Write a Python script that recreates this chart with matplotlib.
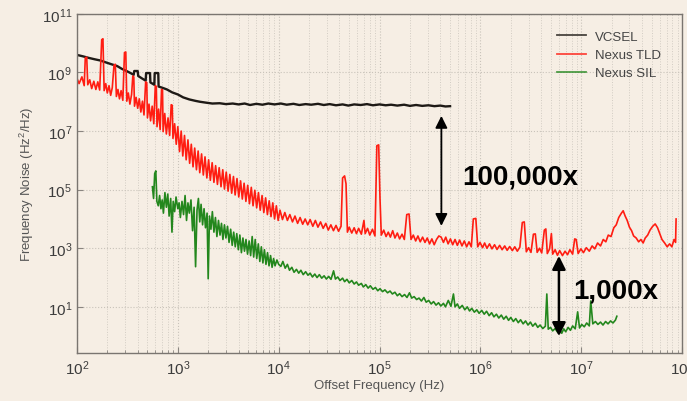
import numpy as np
import matplotlib
matplotlib.use("Agg")
import matplotlib.pyplot as plt
from matplotlib.ticker import LogLocator, NullFormatter, FixedLocator

plt.rcParams['font.family'] = ['Liberation Sans', 'DejaVu Sans']
plt.rcParams['mathtext.fontset'] = 'custom'
plt.rcParams['mathtext.rm'] = 'Liberation Sans'
plt.rcParams['mathtext.it'] = 'Liberation Sans'

# ---- data (noise given as log10 exponent) ----
vcsel_f = [100, 115, 130, 150, 170, 195, 220, 250, 280, 310, 340, 365, 370, 400, 405,
           440, 480, 485, 530, 535, 560, 585, 590, 640, 645, 700, 780, 880, 1000, 1130,
           1300, 1500, 1660, 1900, 2200, 2600, 3000, 3500, 4000, 4600, 5200, 6000, 6900,
           7900, 9100, 1.05e4, 1.2e4, 1.4e4, 1.6e4, 1.85e4, 2.1e4, 2.45e4, 2.8e4, 3.2e4,
           3.7e4, 4.3e4, 4.9e4, 5.6e4, 6.5e4, 7.5e4, 8.6e4, 1e5, 1.15e5, 1.3e5, 1.5e5,
           1.75e5, 2e5, 2.3e5, 2.65e5, 3.05e5, 3.5e5, 4e5, 4.5e5, 5e5]
vcsel_exp = [9.60, 9.55, 9.50, 9.45, 9.41, 9.34, 9.28, 9.22, 9.12, 9.05, 8.98, 8.92, 9.05,
             9.05, 8.88, 8.80, 8.72, 8.98, 8.98, 8.66, 8.62, 8.58, 8.98, 8.98, 8.52, 8.48,
             8.42, 8.32, 8.25, 8.15, 8.08, 8.03, 8.00, 7.97, 7.94, 7.95, 7.92, 7.94, 7.91,
             7.94, 7.89, 7.93, 7.90, 7.94, 7.91, 7.94, 7.90, 7.93, 7.89, 7.92, 7.90, 7.93,
             7.89, 7.92, 7.88, 7.91, 7.87, 7.91, 7.89, 7.92, 7.88, 7.91, 7.88, 7.90, 7.87,
             7.90, 7.86, 7.89, 7.86, 7.88, 7.85, 7.87, 7.84, 7.85]

tld_f = [100, 105, 112, 118, 121, 125, 128, 134, 140, 147, 154, 161, 168, 176, 181, 186,
         193, 200, 208, 216, 224, 233, 240, 246, 255, 264, 274, 285, 296, 305, 312, 323,
         335, 348, 358, 366, 372, 386, 400, 415, 430, 446, 462, 480, 492, 500, 518, 537,
         557, 578, 598, 612, 622, 645, 668, 690, 705, 715, 742, 770, 800, 830, 860, 880,
         895, 930, 965, 1000, 1040, 1080, 1120, 1165, 1210, 1260, 1310, 1360, 1415, 1470,
         1530, 1590, 1650, 1720, 1790, 1860, 1940, 2020, 2100, 2190, 2280, 2370, 2470,
         2570, 2680, 2790, 2900, 3020, 3150, 3280, 3420, 3560, 3700, 3860, 4020, 4190,
         4360, 4540, 4730, 4930, 5130, 5350, 5570, 5800, 6050, 6300, 6560, 6840, 7120,
         7420, 7730, 8050, 8390, 8740, 9100, 9480, 9880, 10300, 10900, 11500, 12200,
         12900, 13700, 14500, 15400, 16300, 17300, 18300, 19400, 20500, 21800, 23100,
         24500, 26000, 27600, 29300, 31000, 32900, 34900, 37000, 39200, 41500, 43000,
         45000, 46500, 48000, 50000, 53000, 56000, 59000, 62000, 66000, 70000, 72000,
         76000, 80000, 85000, 90000, 94000, 98000, 101000, 104000, 110000, 116000,
         122000, 128000, 135000, 142000, 150000, 158000, 167000, 176000, 186000, 196000,
         205000, 216000, 228000, 240000, 253000, 267000, 282000, 297000, 313000, 330000,
         348000, 367000, 387000, 408000, 430000, 453000, 478000, 504000, 531000, 560000,
         590000, 622000, 656000, 692000, 730000, 770000, 812000, 850000, 900000, 940000,
         990000, 1.05e6, 1.1e6, 1.16e6, 1.23e6, 1.3e6, 1.38e6, 1.46e6, 1.55e6, 1.64e6,
         1.74e6, 1.84e6, 1.95e6, 2.07e6, 2.19e6, 2.32e6, 2.46e6, 2.6e6, 2.72e6, 2.85e6,
         3.0e6, 3.17e6, 3.35e6, 3.5e6, 3.65e6, 3.85e6, 4.05e6, 4.3e6, 4.45e6, 4.6e6,
         4.85e6, 5.05e6, 5.2e6, 5.5e6, 5.8e6, 6.1e6, 6.5e6, 6.9e6, 7.3e6, 7.7e6, 8.2e6,
         8.6e6, 8.9e6, 9.3e6, 9.9e6, 1.05e7, 1.12e7, 1.2e7, 1.28e7, 1.36e7, 1.45e7,
         1.55e7, 1.65e7, 1.75e7, 1.85e7, 1.97e7, 2.1e7, 2.22e7, 2.35e7, 2.5e7, 2.6e7,
         2.72e7, 2.85e7, 3.0e7, 3.15e7, 3.3e7, 3.5e7, 3.7e7, 3.9e7, 4.1e7, 4.3e7, 4.55e7,
         4.8e7, 5.1e7, 5.4e7, 5.7e7, 6.0e7, 6.3e7, 6.7e7, 7.1e7, 7.5e7, 7.9e7, 8.3e7,
         8.6e7, 8.7e7]
tld_exp = [8.80, 8.62, 8.85, 8.55, 9.50, 9.52, 8.58, 8.75, 8.45, 8.70, 8.42, 8.68, 8.40,
           10.12, 10.15, 8.38, 8.62, 8.30, 8.55, 8.22, 8.48, 9.25, 9.28, 8.18, 8.42, 8.10,
           8.38, 8.05, 9.68, 9.70, 8.02, 8.30, 7.92, 8.25, 8.88, 8.85, 7.85, 8.15, 7.78,
           8.10, 7.65, 8.02, 7.55, 8.68, 8.65, 7.45, 7.92, 7.35, 7.85, 7.25, 8.55, 8.52,
           7.15, 7.75, 7.05, 8.42, 8.40, 6.98, 7.60, 6.90, 7.45, 6.85, 7.90, 7.88, 6.75,
           7.25, 6.55, 7.15, 6.30, 7.00, 6.15, 6.85, 6.02, 6.70, 5.90, 6.55, 5.78, 6.42,
           5.68, 6.32, 5.58, 6.22, 5.50, 6.12, 5.40, 6.02, 5.32, 5.92, 5.25, 5.82, 5.18,
           5.75, 5.10, 5.68, 5.02, 5.60, 4.95, 5.52, 4.88, 5.45, 4.82, 5.38, 4.75, 5.30,
           4.68, 5.22, 4.60, 5.15, 4.52, 5.08, 4.45, 4.98, 4.38, 4.90, 4.30, 4.80, 4.22,
           4.72, 4.15, 4.62, 4.08, 4.55, 4.00, 4.45, 3.95, 4.30, 3.98, 4.22, 3.95, 4.15,
           3.90, 4.10, 3.85, 4.05, 3.82, 4.00, 3.80, 3.98, 3.75, 3.95, 3.72, 3.90, 3.68,
           3.85, 3.62, 3.80, 3.60, 3.78, 3.58, 3.75, 5.40, 5.47, 5.20, 3.55, 3.72, 3.52,
           3.70, 3.50, 3.68, 3.48, 3.95, 3.50, 3.68, 3.45, 3.65, 3.42, 6.50, 6.53, 4.70,
           3.45, 3.62, 3.40, 3.55, 3.38, 3.60, 3.35, 3.52, 3.32, 3.48, 3.30, 4.15, 4.17,
           3.30, 3.45, 3.25, 3.42, 3.22, 3.38, 3.20, 3.35, 3.15, 3.32, 3.12, 3.30, 3.42,
           3.38, 3.20, 3.38, 3.15, 3.32, 3.12, 3.30, 3.10, 3.28, 3.08, 3.25, 3.05, 3.22,
           3.05, 4.00, 4.02, 3.05, 3.20, 3.02, 3.18, 3.00, 3.15, 2.98, 3.12, 2.96, 3.10,
           2.95, 3.08, 2.93, 3.06, 2.92, 3.05, 2.90, 3.04, 3.88, 3.90, 2.88, 3.02, 2.86,
           3.48, 3.49, 2.86, 3.00, 2.84, 3.62, 3.66, 2.82, 2.98, 3.50, 2.80, 2.95, 2.76,
           2.92, 2.75, 2.90, 2.78, 2.95, 2.80, 3.32, 3.30, 2.82, 2.98, 2.85, 3.02, 2.90,
           3.08, 2.98, 3.18, 3.08, 3.30, 3.22, 3.45, 3.40, 3.70, 3.80, 4.05, 4.20, 4.28,
           4.10, 3.95, 3.72, 3.60, 3.42, 3.35, 3.22, 3.30, 3.18, 3.35, 3.45, 3.62, 3.75,
           3.83, 3.70, 3.50, 3.30, 3.18, 3.05, 3.15, 3.05, 3.30, 3.20, 4.00]

sil_f = [560, 575, 590, 605, 620, 640, 660, 680, 700, 720, 745, 770, 795, 820, 850, 875,
         900, 930, 960, 1000, 1030, 1060, 1100, 1140, 1180, 1220, 1260, 1300, 1350, 1400,
         1450, 1500, 1550, 1600, 1650, 1700, 1760, 1820, 1880, 1950, 2000, 2060, 2130,
         2200, 2280, 2360, 2440, 2530, 2620, 2710, 2800, 2900, 3000, 3110, 3220, 3340,
         3460, 3580, 3710, 3840, 3980, 4120, 4270, 4420, 4580, 4740, 4910, 5090, 5270,
         5460, 5650, 5850, 6060, 6280, 6500, 6730, 6970, 7220, 7480, 7750, 8020, 8310,
         8600, 8900, 9200, 9600, 1e4, 1.05e4, 1.1e4, 1.16e4, 1.22e4, 1.28e4, 1.35e4,
         1.42e4, 1.5e4, 1.58e4, 1.66e4, 1.75e4, 1.85e4, 1.95e4, 2.05e4, 2.16e4, 2.28e4,
         2.4e4, 2.53e4, 2.67e4, 2.82e4, 2.97e4, 3.13e4, 3.3e4, 3.5e4, 3.65e4, 3.85e4,
         4.05e4, 4.3e4, 4.5e4, 4.75e4, 5.0e4, 5.3e4, 5.6e4, 5.9e4, 6.2e4, 6.6e4, 6.9e4,
         7.3e4, 7.7e4, 8.1e4, 8.6e4, 9.1e4, 9.6e4, 1.01e5, 1.07e5, 1.13e5, 1.2e5, 1.27e5,
         1.34e5, 1.42e5, 1.5e5, 1.58e5, 1.67e5, 1.77e5, 1.87e5, 1.98e5, 2.08e5, 2.2e5,
         2.33e5, 2.46e5, 2.6e5, 2.75e5, 2.9e5, 3.07e5, 3.25e5, 3.43e5, 3.63e5, 3.84e5,
         4.05e5, 4.3e5, 4.5e5, 4.8e5, 5.1e5, 5.4e5, 5.6e5, 5.9e5, 6.2e5, 6.6e5, 7.0e5,
         7.4e5, 7.8e5, 8.2e5, 8.7e5, 9.2e5, 9.7e5, 1.03e6, 1.09e6, 1.15e6, 1.22e6,
         1.29e6, 1.36e6, 1.44e6, 1.52e6, 1.61e6, 1.7e6, 1.8e6, 1.9e6, 2.0e6, 2.12e6,
         2.24e6, 2.37e6, 2.5e6, 2.65e6, 2.8e6, 2.96e6, 3.13e6, 3.3e6, 3.5e6, 3.7e6,
         3.9e6, 4.15e6, 4.4e6, 4.55e6, 4.7e6, 4.95e6, 5.2e6, 5.5e6, 5.8e6, 6.1e6, 6.4e6,
         6.7e6, 7.0e6, 7.4e6, 7.8e6, 8.2e6, 8.7e6, 9.2e6, 9.6e6, 1.01e7, 1.07e7, 1.13e7,
         1.2e7, 1.24e7, 1.3e7, 1.38e7, 1.46e7, 1.55e7, 1.64e7, 1.74e7, 1.84e7, 1.95e7,
         2.06e7, 2.18e7, 2.25e7]
sil_exp = [5.10, 4.70, 5.55, 5.64, 4.60, 4.45, 4.80, 4.35, 4.65, 4.20, 4.90, 4.40, 4.85,
           4.10, 4.70, 3.55, 4.60, 4.25, 4.75, 4.35, 4.55, 4.05, 4.60, 4.15, 4.80, 3.95,
           4.55, 4.20, 4.65, 3.60, 4.40, 2.37, 4.30, 4.70, 3.90, 4.50, 3.80, 4.35, 3.70,
           4.20, 1.96, 4.10, 3.65, 4.25, 3.55, 4.05, 3.40, 3.95, 3.45, 3.85, 3.30, 3.80,
           3.35, 3.75, 3.20, 3.65, 3.10, 3.55, 3.05, 3.50, 2.95, 3.45, 2.85, 3.35, 2.90,
           3.30, 2.80, 3.25, 2.75, 3.40, 2.70, 3.30, 2.65, 3.15, 2.55, 3.05, 2.50, 2.95,
           2.45, 2.85, 2.40, 2.75, 2.35, 2.65, 2.40, 2.60, 2.45, 2.38, 2.55, 2.32, 2.45,
           2.25, 2.35, 2.18, 2.28, 2.15, 2.25, 2.10, 2.20, 2.08, 2.15, 2.02, 2.12, 2.00,
           2.10, 1.98, 2.06, 1.95, 2.04, 1.94, 2.23, 1.95, 2.02, 1.90, 1.98, 1.86, 1.94,
           1.82, 1.90, 1.78, 1.85, 1.74, 1.80, 1.68, 1.76, 1.64, 1.72, 1.60, 1.66, 1.55,
           1.62, 1.52, 1.58, 1.48, 1.54, 1.44, 1.50, 1.38, 1.45, 1.35, 1.42, 1.32, 1.48,
           1.30, 1.35, 1.25, 1.30, 1.20, 1.32, 1.16, 1.22, 1.10, 1.18, 1.06, 1.14, 1.03,
           1.12, 1.00, 1.22, 1.02, 1.44, 1.00, 1.10, 0.95, 1.05, 0.90, 1.00, 0.86, 0.95,
           0.82, 0.90, 0.78, 0.88, 0.75, 0.85, 0.70, 0.80, 0.66, 0.75, 0.62, 0.72, 0.58,
           0.68, 0.54, 0.64, 0.50, 0.60, 0.46, 0.56, 0.42, 0.52, 0.38, 0.48, 0.34, 0.44,
           0.30, 0.38, 0.26, 0.34, 1.44, 0.24, 0.30, 0.18, 0.26, 0.14, 0.22, 0.10, 0.25,
           0.15, 0.30, 0.20, 0.35, 0.25, 0.83, 0.28, 0.40, 0.32, 0.45, 0.35, 1.20, 0.42,
           0.50, 0.40, 0.48, 0.38, 0.50, 0.42, 0.52, 0.45, 0.55, 0.68]

labels = ['VCSEL', 'Nexus TLD', 'Nexus SIL']

bg = '#f6eee4'
fig = plt.figure(figsize=(6.87, 4.02), dpi=100, facecolor=bg)
ax = fig.add_axes([0.112, 0.119, 0.881, 0.844])
ax.set_facecolor(bg)

ax.plot(vcsel_f, 10.0 ** np.array(vcsel_exp), color='#1e1a16', lw=1.7, label=labels[0])
ax.plot(tld_f, 10.0 ** np.array(tld_exp), color='#ff1d12', lw=1.2, label=labels[1])
ax.plot(sil_f, 10.0 ** np.array(sil_exp), color='#23871d', lw=1.2, label=labels[2])

ax.set_xscale('log')
ax.set_yscale('log')
ax.set_xlim(1e2, 1e8)
ax.set_ylim(10 ** -0.58, 1e11)

ax.xaxis.set_major_locator(LogLocator(base=10, numticks=10))
ax.xaxis.set_minor_locator(LogLocator(base=10, subs=np.arange(2, 10), numticks=20))
ax.xaxis.set_minor_formatter(NullFormatter())
ax.yaxis.set_major_locator(FixedLocator([1e1, 1e3, 1e5, 1e7, 1e9, 1e11]))
ax.yaxis.set_minor_locator(FixedLocator([]))

ax.grid(True, which='major', axis='both', color='#c9c3ba', ls=':', lw=0.8)
ax.grid(True, which='minor', axis='x', color='#d2ccc3', ls=':', lw=0.7)
ax.set_axisbelow(True)

for s in ax.spines.values():
    s.set_color('#7a7570')
    s.set_linewidth(1.0)
ax.tick_params(which='both', direction='in', colors='#8a8580', labelcolor='#3c3c3c',
               labelsize=11, top=False, right=False)
ax.tick_params(which='major', length=4)
ax.tick_params(which='minor', length=2)

ax.set_xlabel('Offset Frequency (Hz)', fontsize=9.5, color='#555555', labelpad=2)
ax.set_ylabel('Frequency Noise (Hz$^2$/Hz)', fontsize=9.5, color='#555555', labelpad=4)

leg = ax.legend(loc='upper right', bbox_to_anchor=(0.985, 0.985), frameon=False,
                fontsize=9.5, handlelength=2.2, labelspacing=0.45, handletextpad=0.7)
for t in leg.get_texts():
    t.set_color('#444444')
for h in leg.get_lines():
    h.set_linewidth(1.3)
    h.set_alpha(0.8)

# arrows and ratio labels
ax.annotate('', xy=(4.1e5, 3.3e7), xytext=(4.1e5, 5.8e3),
            arrowprops=dict(arrowstyle='<|-|>', color='black', lw=1.3,
                            mutation_scale=18, shrinkA=0, shrinkB=0))
ax.annotate('', xy=(6e6, 5.5e2), xytext=(6e6, 1.0),
            arrowprops=dict(arrowstyle='<|-|>', color='black', lw=1.8,
                            mutation_scale=20, shrinkA=0, shrinkB=0))
ax.text(6.6e5, 2.8e5, '100,000x', fontsize=20, fontweight='bold', va='center', ha='left')
ax.text(8.3e6, 35, '1,000x', fontsize=20, fontweight='bold', va='center', ha='left')

fig.savefig('out.png', dpi=100, facecolor=bg)
